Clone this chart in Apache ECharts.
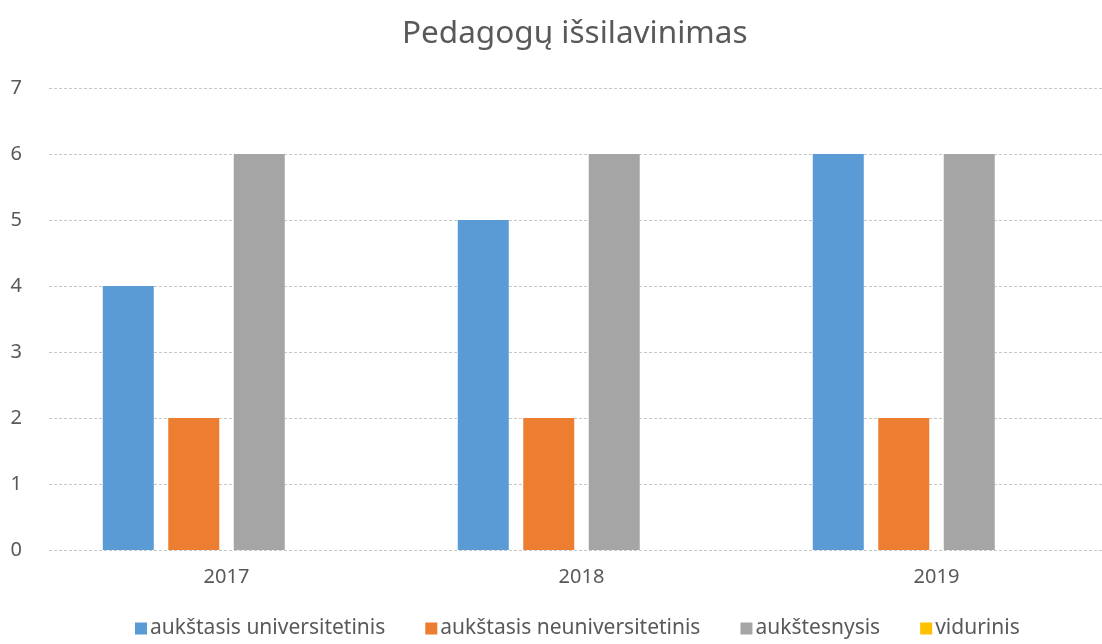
<!DOCTYPE html>
<html>
<head>
<meta charset="utf-8">
<script src="https://cdn.jsdelivr.net/npm/echarts@6/dist/echarts.min.js"></script>
<style>
  html, body { margin: 0; padding: 0; background: #fff; overflow: hidden; }
  #chart { width: 1114px; height: 644px; }
</style>
</head>
<body>
<div id="chart"></div>
<script>
var years = ['2017', '2018', '2019'];
var seriesNames = ['aukštasis universitetinis', 'aukštasis neuniversitetinis', 'aukštesnysis', 'vidurinis'];
var universitetinis = [4, 5, 6];
var neuniversitetinis = [2, 2, 2];
var aukstesnysis = [6, 6, 6];
var vidurinis = [0, 0, 0];
var colors = ['#5B9BD5', '#ED7D31', '#A5A5A5', '#FFC000'];

// plot area runs past the right edge of the picture, like the original
var chart = echarts.init(document.getElementById('chart'));
var font = 'Noto Sans';
var values = [universitetinis, neuniversitetinis, aukstesnysis, vidurinis];
var series = seriesNames.map(function (name, i) {
  return {
    name: name,
    type: 'bar',
    data: values[i],
    barWidth: 51,
    barGap: '28.4%',
    itemStyle: { color: colors[i] }
  };
});

var option = {
  color: colors,
  title: {
    text: 'Pedagogų išsilavinimas',
    left: 397,
    top: 13,
    textStyle: { fontFamily: font, fontSize: 31.5, fontWeight: 'normal', color: '#595959' }
  },
  legend: {
    bottom: 0,
    left: 130,
    itemWidth: 12,
    itemHeight: 12,
    itemGap: 40,
    icon: 'rect',
    data: seriesNames,
    textStyle: { fontFamily: font, fontSize: 21, color: '#595959', padding: [0, 0, 0, -2] }
  },
  grid: {
    left: 49,
    right: 0,
    top: 88,
    bottom: 94
  },
  xAxis: {
    type: 'category',
    data: years,
    axisLine: { show: false },
    axisTick: { show: false },
    axisLabel: { fontFamily: font, fontSize: 20, color: '#595959', margin: 17 }
  },
  yAxis: {
    type: 'value',
    min: 0,
    max: 7,
    interval: 1,
    axisLabel: { fontFamily: font, fontSize: 20, color: '#595959', margin: 27 },
    splitLine: { lineStyle: { color: '#c8c8c8', type: [3, 2], width: 1 } }
  },
  series: series
};
chart.setOption(option);
</script>
</body>
</html>
